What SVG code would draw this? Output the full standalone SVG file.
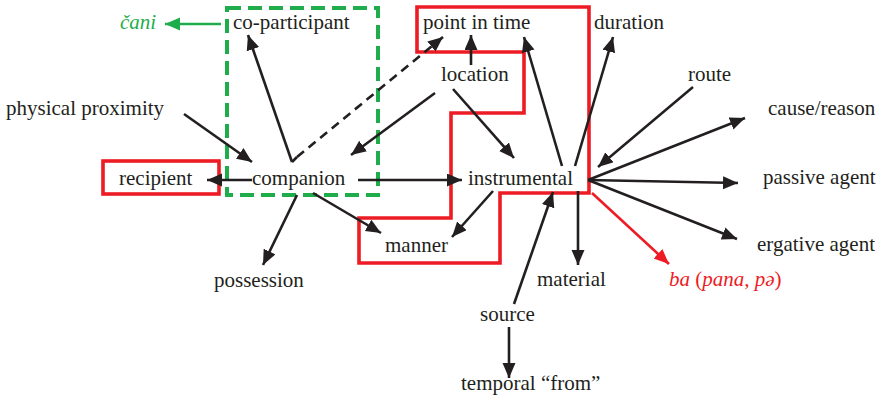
<svg xmlns="http://www.w3.org/2000/svg" width="884" height="396" viewBox="0 0 884 396">
<style>
.c{stroke:#231f20;stroke-width:2.6;fill:none}
.red{fill:#ed1c24}
.grn{fill:#1fad4b}
.it{font-style:italic}
</style>
<defs>
<marker id="ah" markerUnits="userSpaceOnUse" markerWidth="16" markerHeight="14" refX="15" refY="6.5" orient="auto"><path d="M0,0 L15,6.5 L0,13 z" fill="#231f20"/></marker>
<marker id="ahr" markerUnits="userSpaceOnUse" markerWidth="16" markerHeight="14" refX="15" refY="6.5" orient="auto"><path d="M0,0 L15,6.5 L0,13 z" fill="#ed1c24"/></marker>
<marker id="ahg" markerUnits="userSpaceOnUse" markerWidth="16" markerHeight="14" refX="15" refY="6.5" orient="auto"><path d="M0,0 L15,6.5 L0,13 z" fill="#1fad4b"/></marker>
</defs>
<rect width="884" height="396" fill="#fff"/>
<g id="frames">
<rect x="227" y="8" width="151" height="187" fill="none" stroke="#1fad4b" stroke-width="4" stroke-dasharray="14 7"/>
<polygon points="417,7 589,7 589,193 500,193 500,263 359,263 359,218 451,218 451,113 524,113 524,52 417,52" fill="none" stroke="#ed1c24" stroke-width="3.6"/>
<rect x="103" y="161" width="116" height="33" fill="none" stroke="#ed1c24" stroke-width="3.6"/>
</g>
<g id="connectors">
<line x1="221" y1="24" x2="165" y2="24" stroke="#1fad4b" stroke-width="2.6" marker-end="url(#ahg)"/>
<line class="c" x1="292" y1="162" x2="248" y2="35" marker-end="url(#ah)"/>
<line class="c" x1="292" y1="162" x2="297" y2="157"/>
<line class="c" x1="297" y1="157" x2="443" y2="37" stroke-dasharray="9 6" marker-end="url(#ah)"/>
<line class="c" x1="184" y1="114" x2="252" y2="162" marker-end="url(#ah)"/>
<line class="c" x1="435" y1="93" x2="351" y2="155" marker-end="url(#ah)"/>
<line class="c" x1="252" y1="180" x2="207" y2="180" marker-end="url(#ah)"/>
<line class="c" x1="358" y1="180" x2="462" y2="180" marker-end="url(#ah)"/>
<line class="c" x1="297" y1="195" x2="263" y2="265" marker-end="url(#ah)"/>
<line class="c" x1="313" y1="193" x2="381" y2="233" marker-end="url(#ah)"/>
<line class="c" x1="471" y1="65" x2="471" y2="35" marker-end="url(#ah)"/>
<line class="c" x1="453" y1="89" x2="514" y2="158" marker-end="url(#ah)"/>
<line class="c" x1="562" y1="166" x2="524" y2="37" marker-end="url(#ah)"/>
<line class="c" x1="575" y1="166" x2="613" y2="37" marker-end="url(#ah)"/>
<line class="c" x1="693" y1="87" x2="598" y2="167" marker-end="url(#ah)"/>
<line class="c" x1="588" y1="180" x2="745" y2="118" marker-end="url(#ah)"/>
<line class="c" x1="588" y1="180" x2="738" y2="183" marker-end="url(#ah)"/>
<line class="c" x1="588" y1="180" x2="737" y2="239" marker-end="url(#ah)"/>
<line x1="592" y1="193" x2="669" y2="264" stroke="#ed1c24" stroke-width="2.6" marker-end="url(#ahr)"/>
<line class="c" x1="578" y1="191" x2="578" y2="265" marker-end="url(#ah)"/>
<line class="c" x1="493" y1="191" x2="452" y2="237" marker-end="url(#ah)"/>
<line class="c" x1="514" y1="304" x2="553" y2="192" marker-end="url(#ah)"/>
<line class="c" x1="509" y1="327" x2="509" y2="378" marker-end="url(#ah)"/>
</g>
<g id="labels" font-family="Liberation Serif, Times New Roman, DejaVu Serif, serif" font-size="21" fill="#231f20">
<g id="cani"><text x="120" y="29" class="grn it">čani</text></g>
<g id="co-participant"><text x="233" y="29">co-participant</text></g>
<g id="point-in-time"><text x="423" y="29">point in time</text></g>
<g id="duration"><text x="594" y="29">duration</text></g>
<g id="location"><text x="441" y="81">location</text></g>
<g id="route"><text x="688" y="81">route</text></g>
<g id="physical-proximity"><text x="6" y="115">physical proximity</text></g>
<g id="cause-reason"><text x="768" y="115">cause/reason</text></g>
<g id="recipient"><text x="119" y="185">recipient</text></g>
<g id="companion"><text x="252" y="185">companion</text></g>
<g id="instrumental"><text x="468" y="185">instrumental</text></g>
<g id="passive-agent"><text x="763" y="184">passive agent</text></g>
<g id="manner"><text x="385" y="252">manner</text></g>
<g id="ergative-agent"><text x="757" y="251">ergative agent</text></g>
<g id="possession"><text x="214" y="287">possession</text></g>
<g id="material"><text x="537" y="286">material</text></g>
<g id="ba"><text x="669" y="286" class="red"><tspan class="it">ba</tspan> (<tspan class="it">pana, pə</tspan>)</text></g>
<g id="source"><text x="480" y="321">source</text></g>
<g id="temporal-from"><text x="461" y="390">temporal “from”</text></g>
</g>
</svg>
